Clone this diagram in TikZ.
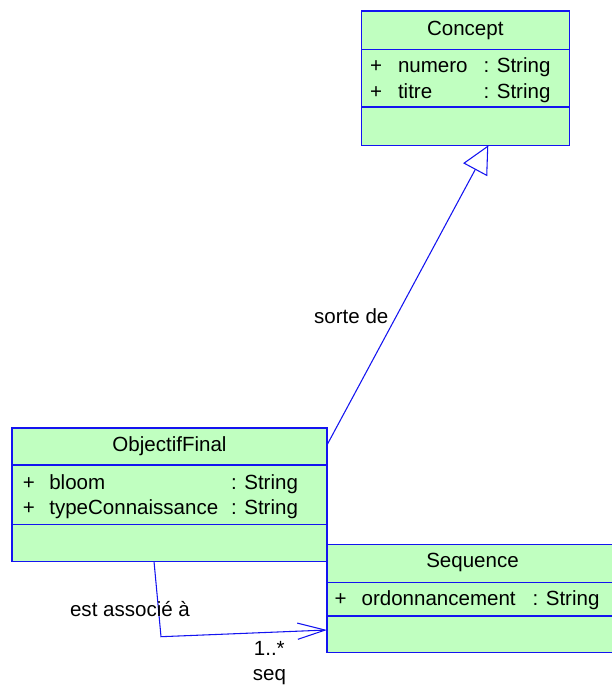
\documentclass[tikz,border=0pt]{standalone}
\usepackage{fontspec}
\setmainfont{Liberation Sans}
\usetikzlibrary{arrows.meta,fit,calc}
\definecolor{boxfill}{RGB}{192,255,192}
\definecolor{umlblue}{RGB}{20,20,240}
\begin{document}
\begin{tikzpicture}[x=0.75pt,y=-0.75pt,
  every node/.style={inner sep=0pt,outer sep=0pt,font=\fontsize{15.4}{18}\selectfont},
  classbox/.style={draw=umlblue,fill=boxfill,line width=0.8pt,inner sep=0pt},
  divider/.style={draw=umlblue,line width=0.8pt},
  conn/.style={draw=umlblue,line width=0.8pt},
  gen/.style={conn,-{Triangle[open,length=20.8pt,width=20.4pt,fill=white]}},
  assoc/.style={conn,-{Straight Barb[length=20.7pt,width=12.2pt]}},
  txt/.style={anchor=base west},
  ctxt/.style={anchor=base}]
\useasboundingbox (0,0) rectangle (611,686);

% Concept
\coordinate (c1) at (361.3,11);
\coordinate (c2) at (569.3,145.3);
\node[classbox,fit=(c1)(c2)] (concept) {};
\draw[divider] (361.3,49.3) -- (569.3,49.3);
\draw[divider] (361.3,107) -- (569.3,107);
\node[ctxt] (cT) at (465.3,35) {Concept};
\node[ctxt] (cp1) at (376,72.3) {+};
\node[txt] (cn1) at (398,72.3) {numero};
\node[txt] (ct1) at (483.5,72.3) {: String};
\node[ctxt] (cp2) at (376,98.3) {+};
\node[txt] (cn2) at (398,98.3) {titre};
\node[txt] (ct2) at (483.5,98.3) {: String};

% ObjectifFinal
\coordinate (o1) at (12,428);
\coordinate (o2) at (327,561.3);
\node[classbox,fit=(o1)(o2)] (of) {};
\draw[divider] (12,465) -- (327,465);
\draw[divider] (12,524.3) -- (327,524.3);
\node[ctxt] (oT) at (169.5,451.7) {ObjectifFinal};
\node[ctxt] (op1) at (28.8,489) {+};
\node[txt] (on1) at (49.3,489) {bloom};
\node[txt] (ot1) at (231,489) {: String};
\node[ctxt] (op2) at (28.8,514.5) {+};
\node[txt] (on2) at (49.3,514.5) {typeConnaissance};
\node[txt] (ot2) at (231,514.5) {: String};

% Sequence
\coordinate (s1) at (327,544.3);
\coordinate (s2) at (630,652.3);
\node[classbox,fit=(s1)(s2)] (seqc) {};
\draw[divider] (327,582.5) -- (630,582.5);
\draw[divider] (327,616) -- (630,616);
\node[ctxt] (sT) at (472.5,567.7) {Sequence};
\node[ctxt] (sp1) at (340.6,605) {+};
\node[txt] (sn1) at (361.6,605) {ordonnancement};
\node[txt] (st1) at (532.5,605) {: String};

% Generalization
\draw[gen] ($(of.north east)+(0,17)$) -- ($(concept.south)+(23,0)$);
\node[ctxt] (lsorte) at (351.3,323.3) {sorte de};

% Association
\coordinate (bend) at (161,636.7);
\draw[assoc] ($(of.south)+(-15.5,0)$) -- (bend) -- ($(seqc.south west)+(0,-22.3)$);
\node[ctxt] (lassoc) at (130,616.7) {est associé à};
\node[ctxt] (lmult) at (269.3,655) {1..*};
\node[ctxt] (lrole) at (269.5,680) {seq};
\end{tikzpicture}
\end{document}
